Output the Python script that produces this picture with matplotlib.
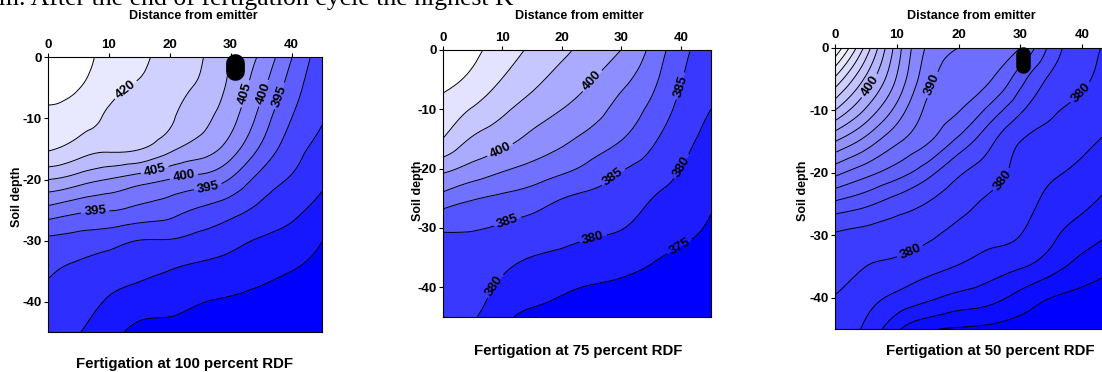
"""Perfiles de K en el suelo bajo fertirrigacion (tres dosis de RDF)."""

import matplotlib
matplotlib.use('Agg')
import matplotlib.pyplot as plt
import matplotlib.tri as mtri
import numpy as np
from matplotlib.colors import LinearSegmentedColormap, Normalize

# Malla de lectura: distancia al emisor (cm) y profundidad (cm)
DISTANCIA = [0, 5, 10, 15, 20, 25, 30, 35, 40, 45]
PROFUNDIDAD = [0, -5, -10, -15, -20, -25, -30, -35, -40, -45]

# Valores (filas = profundidad, columnas = distancia)
K_100 = [
    [430.0, 426.7, 423.7, 421.0, 418.3, 415.5, 410.0, 404.0, 395.2, 387.0],
    [427.0, 425.2, 421.8, 419.1, 416.9, 414.1, 408.8, 401.3, 392.6, 386.1],
    [423.9, 422.2, 419.3, 417.1, 415.6, 411.6, 406.7, 398.1, 390.0, 385.3],
    [420.5, 417.7, 415.9, 415.2, 411.2, 407.6, 402.5, 394.1, 387.3, 383.4],
    [410.0, 407.5, 404.8, 402.3, 399.9, 398.1, 394.6, 388.2, 384.5, 381.0],
    [398.4, 396.1, 395.2, 393.7, 392.0, 389.3, 386.8, 383.8, 381.3, 378.2],
    [389.0, 388.0, 386.8, 384.9, 384.7, 383.3, 381.5, 379.5, 378.1, 375.1],
    [385.5, 384.1, 382.6, 381.1, 379.9, 378.7, 377.7, 376.3, 375.0, 373.5],
    [383.3, 382.2, 379.4, 377.3, 376.5, 375.2, 374.5, 373.7, 373.0, 372.2],
    [381.8, 380.2, 376.9, 373.8, 373.5, 373.0, 372.5, 372.0, 371.8, 371.0],
]
K_75 = [
    [419.0, 416.1, 412.7, 409.1, 406.1, 403.0, 399.9, 393.8, 386.7, 382.5],
    [416.6, 413.8, 409.8, 406.3, 403.2, 400.2, 396.4, 391.5, 385.3, 381.2],
    [413.2, 409.6, 406.0, 402.8, 400.0, 397.1, 393.2, 388.9, 383.6, 380.0],
    [409.9, 404.5, 401.8, 398.7, 396.1, 393.3, 390.2, 386.0, 381.8, 378.5],
    [401.4, 398.4, 395.8, 393.6, 391.3, 388.4, 385.4, 383.0, 380.0, 377.1],
    [393.2, 390.5, 389.0, 387.5, 385.1, 383.9, 382.7, 380.1, 378.1, 375.7],
    [385.6, 385.3, 384.5, 383.2, 382.0, 381.0, 380.2, 377.8, 376.2, 374.5],
    [384.0, 383.8, 381.6, 379.9, 378.9, 377.9, 377.1, 375.5, 374.3, 373.5],
    [382.1, 382.3, 379.0, 377.0, 375.7, 374.8, 374.3, 373.5, 373.0, 372.5],
    [380.8, 380.5, 376.3, 374.0, 373.5, 373.0, 372.8, 372.3, 372.0, 371.5],
]
K_50 = [
    [414.0, 405.3, 397.1, 391.7, 390.0, 389.0, 388.0, 383.3, 380.8, 379.5],
    [407.6, 401.6, 395.8, 390.7, 389.1, 388.2, 384.8, 381.6, 380.3, 379.0],
    [402.0, 397.7, 393.3, 389.6, 388.1, 385.4, 382.3, 380.3, 379.5, 378.4],
    [396.0, 393.2, 390.3, 388.2, 385.4, 382.5, 380.0, 379.3, 378.5, 377.5],
    [390.6, 388.7, 386.9, 384.7, 382.3, 380.9, 379.3, 378.3, 377.5, 376.4],
    [385.5, 384.4, 383.0, 381.9, 380.7, 379.6, 378.7, 377.4, 376.4, 375.2],
    [381.8, 381.3, 381.0, 380.4, 379.3, 378.6, 378.0, 376.4, 375.0, 373.8],
    [380.9, 380.0, 379.5, 378.6, 377.9, 377.0, 376.2, 374.8, 373.2, 372.3],
    [379.9, 378.8, 377.5, 376.4, 375.4, 374.7, 373.3, 372.0, 371.5, 371.2],
    [379.0, 377.6, 374.4, 372.3, 371.8, 371.5, 371.2, 371.0, 370.8, 370.5],
]

# Limites de las bandas de color (las isolineas son los limites interiores)
BANDAS_100 = list(range(370, 431, 5))
BANDAS_75 = list(range(370, 421, 5))
BANDAS_50 = list(range(370, 415, 2))

# Etiquetas de isolineas: (nivel, distancia, profundidad)
ETIQUETAS_100 = [(420, 13.0, -5.6), (405, 32.2, -5.9), (400, 35.5, -5.9),
                 (395, 38.5, -6.5), (405, 17.4, -17.7), (400, 22.2, -18.7),
                 (395, 26.4, -22.0), (395, 7.8, -25.5)]
ETIQUETAS_75 = [(400, 25.2, -5.3), (400, 9.7, -17.1), (385, 40.0, -6.1),
                (385, 28.6, -21.4), (385, 10.9, -29.1), (380, 40.2, -19.7),
                (380, 25.2, -31.6), (380, 7.9, -39.3), (375, 39.8, -33.2)]
ETIQUETAS_50 = [(400, 5.3, -5.9), (390, 15.9, -6.0), (380, 27.1, -21.2),
                (380, 12.4, -33.2), (380, 40.2, -7.6)]

# Posicion del emisor (distancia, profundidad superior, inferior)
EMISOR_100 = (30.7, -0.9, -2.2)
EMISOR_50 = (30.5, -1.0, -2.9)

TICKS_X = [0, 10, 20, 30, 40]
TICKS_Y = [0, -10, -20, -30, -40]
ETIQ_Y = ['0', '-10', '-20', '-30', '-40']

TITULOS = ['Fertigation at 100 percent RDF', 'Fertigation at 75 percent RDF',
           'Fertigation at 50 percent RDF']

ANCHO, ALTO = 1102, 372


def _px(x, y):
    """Pasar pixeles de la imagen a coordenadas de la figura."""
    return x / ANCHO, 1 - y / ALTO


def _caja(izq, der, arriba, abajo):
    return [izq / ANCHO, 1 - abajo / ALTO, (der - izq) / ANCHO,
            (abajo - arriba) / ALTO]


def _interpolar(valores):
    """Interpolacion cubica de la malla de lectura sobre una malla fina."""
    xs, ys = np.meshgrid(DISTANCIA, PROFUNDIDAD)
    tri = mtri.Triangulation(xs.ravel(), ys.ravel())
    interp = mtri.CubicTriInterpolator(tri, np.ravel(valores), kind='min_E')
    xi = np.linspace(1e-6, 45 - 1e-6, 226)
    yi = np.linspace(-45 + 1e-6, -1e-6, 226)
    xi, yi = np.meshgrid(xi, yi)
    return xi, yi, interp(xi, yi)


plt.rcParams['font.family'] = ['Liberation Sans', 'DejaVu Sans']
plt.rcParams['font.weight'] = 'bold'

azules = LinearSegmentedColormap.from_list('azules', ['#0000ff', '#ffffff'])

fig = plt.figure(figsize=(ANCHO / 100, ALTO / 100), dpi=100)

paneles = [
    (K_100, BANDAS_100, ETIQUETAS_100, EMISOR_100,
     _caja(47.7, 322, 57.3, 332.3), 13.5),
    (K_75, BANDAS_75, ETIQUETAS_75, None,
     _caja(443, 710.7, 50, 316.7), 13),
    (K_50, BANDAS_50, ETIQUETAS_50, EMISOR_50,
     _caja(835, 1113, 47.7, 329), 10.5),
]

for valores, bandas, etiquetas, emisor, caja, ancho_emisor in paneles:
    ax = fig.add_axes(caja)
    xi, yi, zi = _interpolar(valores)
    medio = np.diff(bandas) / 2 + bandas[:-1]
    norma = Normalize(vmin=medio[0], vmax=medio[-1])
    ax.contourf(xi, yi, zi, levels=bandas, cmap=azules, norm=norma,
                extend='both')
    con_etiqueta = sorted({e[0] for e in etiquetas})
    sin_etiqueta = [b for b in bandas[1:-1] if b not in con_etiqueta]
    ax.contour(xi, yi, zi, levels=sin_etiqueta, colors='black',
               linewidths=0.7)
    # un ContourSet por nivel etiquetado, para poder cortar la linea
    for nivel in con_etiqueta:
        cs = ax.contour(xi, yi, zi, levels=[nivel], colors='black',
                        linewidths=0.7)
        sitios = [(x, y) for n, x, y in etiquetas if n == nivel]
        ax.clabel(cs, manual=sitios, fmt='%d', fontsize=9.5, inline=True,
                  inline_spacing=3)
    if emisor is not None:
        ax.plot([emisor[0], emisor[0]], emisor[1:], color='black',
                lw=ancho_emisor, solid_capstyle='round', clip_on=False,
                zorder=5)
    ax.set_xlim(0, 45)
    ax.set_ylim(-45, 0)
    ax.xaxis.tick_top()
    ax.set_xticks(TICKS_X)
    ax.set_yticks(TICKS_Y)
    ax.set_yticklabels(ETIQ_Y)
    ax.tick_params(direction='out', length=3, width=0.8, labelsize=9.5,
                   pad=1.5, colors='black')
    for lado in ax.spines.values():
        lado.set_linewidth(0.8)

# Textos de los paneles
for x, y in [(193, 16), (579, 16), (971, 16)]:
    fig.text(*_px(x, y), 'Distance from emitter', ha='center', va='center',
             fontsize=9)
for x, y in [(17, 197), (418, 191), (803, 191)]:
    fig.text(*_px(x, y), 'Soil depth', ha='center', va='center',
             rotation=90, fontsize=9)
for (x, y), titulo in zip([(185, 364), (578, 351), (990, 351)], TITULOS):
    fig.text(*_px(x, y), titulo, ha='center', va='center', fontsize=10.8)

# Linea de texto del documento, cortada por arriba
fig.text(*_px(-1, 4.7), 'm. After the end of fertigation cycle the highest K',
         family=['Liberation Serif', 'DejaVu Serif'], weight='normal',
         fontsize=18.5, ha='left', va='baseline')

fig.savefig('out.png', dpi=100)
